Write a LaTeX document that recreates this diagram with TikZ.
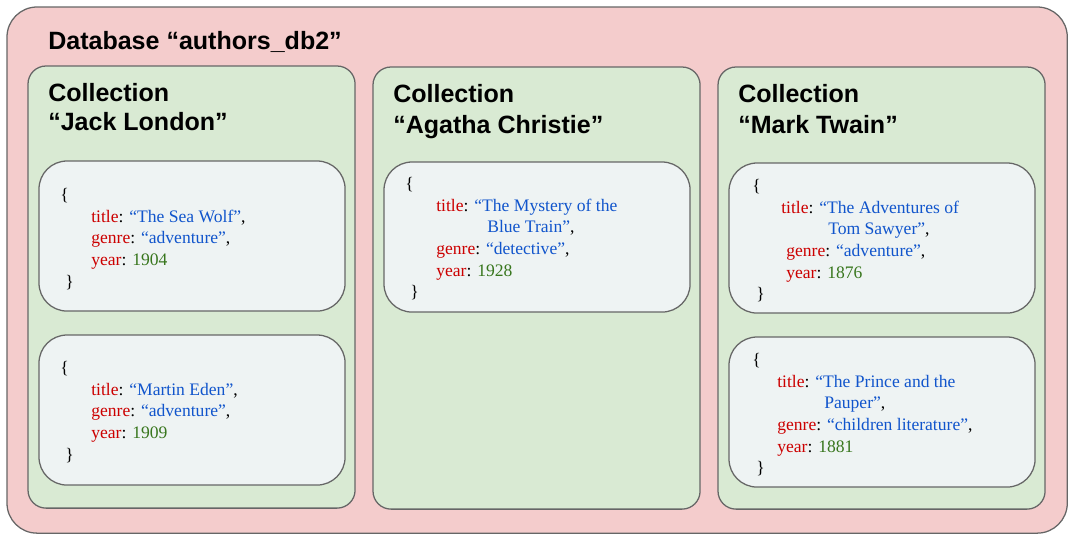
\documentclass[tikz,border=0pt]{standalone}
\usepackage{fontspec}
\setmainfont{Liberation Serif}
\newfontfamily\headfont{Liberation Sans}
\definecolor{dbfill}{HTML}{F4CCCC}
\definecolor{collfill}{HTML}{D9EAD3}
\definecolor{docfill}{HTML}{EEF3F3}
\definecolor{edge}{HTML}{666666}
\definecolor{keyred}{HTML}{CC0000}
\definecolor{strblue}{HTML}{1155CC}
\definecolor{numgreen}{HTML}{38761D}
\newlength\pxlen \setlength\pxlen{0.025cm}
\newcommand\ky[1]{\textcolor{keyred}{#1}: }
\newcommand\st[1]{\textcolor{strblue}{#1}}
\newcommand\nm[1]{\textcolor{numgreen}{#1}}
\newcommand\ind[1]{\hspace*{#1\pxlen}}
\tikzset{
  box/.style={draw=edge, line width=0.9pt, anchor=north west, inner sep=0pt, outer sep=0pt},
  dbbox/.style={box, fill=dbfill, rounded corners=0.75cm, minimum width=26.5cm, minimum height=13.15cm},
  collbox/.style={box, fill=collfill, rounded corners=0.45cm, minimum width=8.175cm, minimum height=11.05cm},
  docbox/.style={box, fill=docfill, rounded corners=0.7cm, minimum width=7.65cm, minimum height=3.75cm},
  headtext/.style={anchor=base west, inner sep=0pt, font=\headfont\bfseries\fontsize{17.8}{20.6}\selectfont},
  doctext/.style={anchor=base west, inner sep=0pt, font=\fontsize{12.5}{15.4}\selectfont}
}

\begin{document}
\begin{tikzpicture}[x=0.025cm, y=-0.025cm]
	\useasboundingbox (0,0) rectangle (1076,540);
	
	%%%%% database %%%%%
	\node[dbbox] (db) at (7,7) {};
	\node[headtext] (db-title) at (48,49) {Database “authors\_db2”};
	
	%%%%% collections %%%%%
	\node[collbox] (london) at (28,66) {};
	\node[collbox] (christie) at (373,67) {};
	\node[collbox] (twain) at (718,67) {};
	
	\node[headtext] (london-title) at (48,101) {\begin{tabular}[t]{@{}l@{}}Collection\\[0.7pt]“Jack London”\end{tabular}};
	\node[headtext] (christie-title) at (393,102) {\begin{tabular}[t]{@{}l@{}}Collection\\[1.5pt]“Agatha Christie”\end{tabular}};
	\node[headtext] (twain-title) at (738,102) {\begin{tabular}[t]{@{}l@{}}Collection\\[1.5pt]“Mark Twain”\end{tabular}};
	
	%%%%% documents %%%%%
	\node[docbox] (seawolf) at (39,161) {};
	\node[docbox] (eden) at (39,335) {};
	\node[docbox] (mystery) at (384,162) {};
	\node[docbox] (sawyer) at (729,163) {};
	\node[docbox] (pauper) at (729,337) {};
	
	\node[doctext] (seawolf-txt) at (60,200.4) {\begin{tabular}[t]{@{}l@{}}
		\{\\
		\ind{31}\ky{title}\st{“The Sea Wolf”},\\
		\ind{31}\ky{genre}\st{“adventure”},\\
		\ind{31}\ky{year}\nm{1904}\\
		\ind{5}\}
	\end{tabular}};
	
	\node[doctext] (eden-txt) at (60,373.4) {\begin{tabular}[t]{@{}l@{}}
		\{\\
		\ind{31}\ky{title}\st{“Martin Eden”},\\
		\ind{31}\ky{genre}\st{“adventure”},\\
		\ind{31}\ky{year}\nm{1909}\\
		\ind{5}\}
	\end{tabular}};
	
	\node[doctext] (mystery-txt) at (405,189.4) {\begin{tabular}[t]{@{}l@{}}
		\{\\
		\ind{31}\ky{title}\st{“The Mystery of the}\\
		\ind{82}\st{Blue Train”},\\
		\ind{31}\ky{genre}\st{“detective”},\\
		\ind{31}\ky{year}\nm{1928}\\
		\ind{5}\}
	\end{tabular}};
	
	\node[doctext] (sawyer-txt) at (752,191.4) {\begin{tabular}[t]{@{}l@{}}
		\{\\
		\ind{29}\ky{title}\st{“The Adventures of}\\
		\ind{76}\st{Tom Sawyer”},\\
		\ind{34}\ky{genre}\st{“adventure”},\\
		\ind{34}\ky{year}\nm{1876}\\
		\ind{4}\}
	\end{tabular}};
	
	\node[doctext] (pauper-txt) at (752,365.4) {\begin{tabular}[t]{@{}l@{}}
		\{\\
		\ind{25}\ky{title}\st{“The Prince and the}\\
		\ind{72}\st{Pauper”},\\
		\ind{25}\ky{genre}\st{“children literature”},\\
		\ind{25}\ky{year}\nm{1881}\\
		\ind{4}\}
	\end{tabular}};
	
\end{tikzpicture}
\end{document}
